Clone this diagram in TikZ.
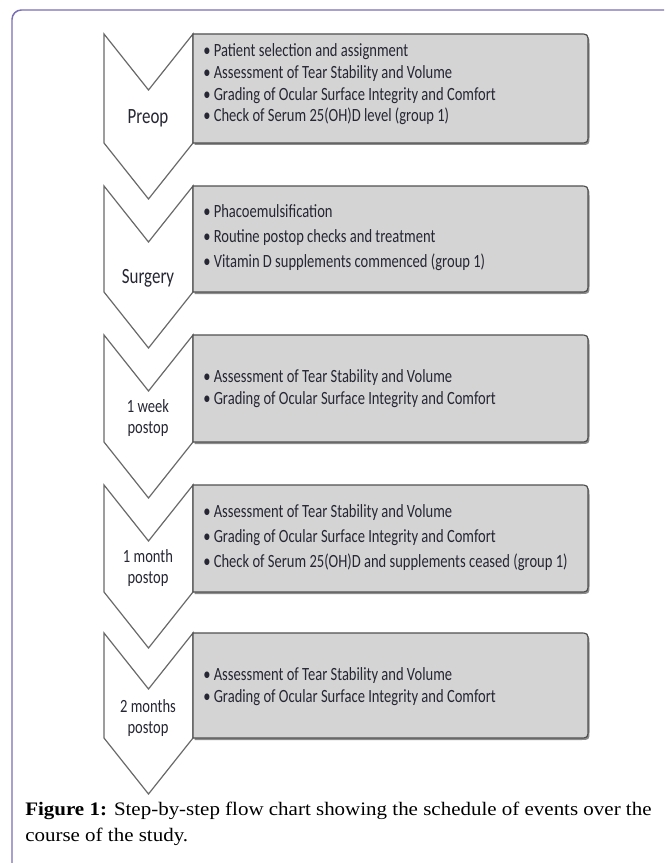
\documentclass[tikz,border=0pt]{standalone}
\usepackage{fontspec}
\setmainfont{Liberation Serif}
\newfontfamily\boxfont[FakeStretch=0.78]{Carlito}
\newfontfamily\capfont[FakeStretch=1.1]{Liberation Serif}
\definecolor{framec}{RGB}{122,112,182}
\definecolor{boxfill}{RGB}{212,212,212}
\definecolor{boxline}{RGB}{80,80,80}
\definecolor{chevline}{RGB}{105,105,105}
\definecolor{txt}{RGB}{38,38,52}
\newcommand\chevpath[2]{(104,#1) -- (148.5,#1+56) -- (193,#1) -- (193,#2) -- (148.5,#2+56) -- (104,#2) -- cycle}
\newcommand\rboxpath[2]{(193,#1) -- (579,#1) .. controls (588,#1) .. (588,#1+9) -- (588,#2-9) .. controls (588,#2) .. (579,#2) -- (193,#2) -- cycle}
\tikzset{
  chev/.style={draw=chevline, fill=white, line width=0.9pt, line join=miter},
  rbox/.style={draw=boxline, fill=boxfill, line width=0.9pt},
  rshadow/.style={fill=black!45, draw=none},
  boxtext/.style={anchor=base west, inner sep=0pt, align=left, text=txt},
  lab/.style={anchor=base, inner sep=0pt, align=center, text=txt},
}
\begin{document}
\begin{tikzpicture}[x=0.75pt,y=-0.75pt]
\useasboundingbox (0,0) rectangle (664,863);
\fill[white] (0,0) rectangle (664,863);
% frame
\draw[framec, line width=1.1pt, rounded corners=7pt] (12,863) -- (12,10) -- (664,10);
% chevrons
\draw[chev] \chevpath{34}{143};
\draw[chev] \chevpath{186}{292};
\draw[chev] \chevpath{335}{442};
\draw[chev] \chevpath{485}{592};
\draw[chev] \chevpath{633}{738};
% boxes
\foreach \t/\b in {34/143,186/292,335/442,485/592,633/738}{
  \fill[rshadow, shift={(1.5,2)}] \rboxpath{\t}{\b};
  \draw[rbox] \rboxpath{\t}{\b};
}
% chevron labels (base = last line)
\node[lab, font=\boxfont\fontsize{16.3}{18}\selectfont] (l1) at (148,124) {Preop};
\node[lab, font=\boxfont\fontsize{16.3}{18}\selectfont] (l2) at (148,283) {Surgery};
\node[lab, font=\boxfont\fontsize{14}{15.75}\selectfont] (l3) at (148,433) {1 week\\postop};
\node[lab, font=\boxfont\fontsize{14}{15.75}\selectfont] (l4) at (148,583) {1 month\\postop};
\node[lab, font=\boxfont\fontsize{14}{15.75}\selectfont] (l5) at (148,733) {2 months\\postop};
% box texts (base = last line)
\node[boxtext, font=\boxfont\fontsize{14}{16.3}\selectfont] (t1) at (203,122) {%
• Patient selection and assignment\\
• Assessment of Tear Stability and Volume\\
• Grading of Ocular Surface Integrity and Comfort\\
• Check of Serum 25(OH)D level (group 1)};
\node[boxtext, font=\boxfont\fontsize{14}{18.4}\selectfont] (t2) at (203,267) {%
• Phacoemulsification\\
• Routine postop checks and treatment\\
• Vitamin D supplements commenced (group 1)};
\node[boxtext, font=\boxfont\fontsize{14}{16.5}\selectfont] (t3) at (203,404) {%
• Assessment of Tear Stability and Volume\\
• Grading of Ocular Surface Integrity and Comfort};
\node[boxtext, font=\boxfont\fontsize{14}{18.4}\selectfont] (t4) at (203,567) {%
• Assessment of Tear Stability and Volume\\
• Grading of Ocular Surface Integrity and Comfort\\
• Check of Serum 25(OH)D and supplements ceased (group 1)};
\node[boxtext, font=\boxfont\fontsize{14}{16.5}\selectfont] (t5) at (203,702) {%
• Assessment of Tear Stability and Volume\\
• Grading of Ocular Surface Integrity and Comfort};
% caption
\node[anchor=base west, inner sep=0pt, align=left, font=\capfont\fontsize{14.3}{19.5}\selectfont] (cap) at (25,841) {%
\textbf{Figure 1:} Step-by-step flow chart showing the schedule of events over the\\
course of the study.};
\end{tikzpicture}
\end{document}
